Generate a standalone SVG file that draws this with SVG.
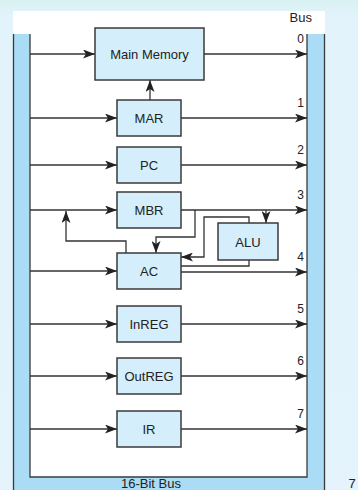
<svg xmlns="http://www.w3.org/2000/svg" width="358" height="490" viewBox="0 0 358 490">
  <defs>
    <linearGradient id="bg" x1="0" y1="0" x2="0" y2="1">
      <stop offset="0" stop-color="#d8f1f1"/>
      <stop offset="0.03" stop-color="#e2f3fb"/>
      <stop offset="1" stop-color="#e4f3fc"/>
    </linearGradient>
    <marker id="arr" markerWidth="12" markerHeight="9" refX="12" refY="4.5" orient="auto" markerUnits="userSpaceOnUse">
      <path d="M0,0 L12,4.5 L0,9 L3,4.5 z" fill="#222"/>
    </marker>
    <style>
      .reg rect { fill: #d5eefb; stroke: #3a3a3a; stroke-width: 1.5; }
      .reg text, .lbl { font-family: "Liberation Sans", Arial, sans-serif; fill: #222; }
      .reg text { font-size: 13px; text-anchor: middle; }
      .num { font-family: "Liberation Sans", Arial, sans-serif; font-size: 12px; fill: #222; text-anchor: end; }
      .wire { fill: none; stroke: #333; stroke-width: 1.3; }
      .wire.a { marker-end: url(#arr); }
    </style>
  </defs>

  <!-- page background -->
  <rect x="0" y="0" width="358" height="490" fill="url(#bg)"/>

  <!-- white panel and the U-shaped 16-bit bus -->
  <g id="bus">
    <rect x="13" y="11" width="312" height="479" fill="#ffffff"/>
    <path d="M13,34 V492 H325 V34 H307 V477 H30 V34 Z" fill="#aadcf6"/>
    <path d="M13.5,34 V492 M30,34 V477 H307 V34 M324.5,34 V492" fill="none" stroke="#3a3a3a" stroke-width="1.3"/>
    <text class="lbl" x="312" y="22" font-size="13" text-anchor="end">Bus</text>
    <text class="lbl" x="151" y="488" font-size="13" text-anchor="middle">16-Bit Bus</text>
  </g>

  <!-- bus line numbers -->
  <g id="bus-lines">
    <text class="num" x="304" y="43">0</text>
    <text class="num" x="304" y="107">1</text>
    <text class="num" x="304" y="154">2</text>
    <text class="num" x="304" y="199">3</text>
    <text class="num" x="304" y="261">4</text>
    <text class="num" x="304" y="313">5</text>
    <text class="num" x="304" y="365">6</text>
    <text class="num" x="304" y="418">7</text>
  </g>

  <!-- connectors -->
  <g id="connectors">
    <!-- bus to registers -->
    <line class="wire a" x1="30" y1="54" x2="95" y2="54"/>
    <line class="wire a" x1="30" y1="118" x2="117" y2="118"/>
    <line class="wire a" x1="30" y1="165" x2="117" y2="165"/>
    <line class="wire a" x1="30" y1="210" x2="117" y2="210"/>
    <line class="wire a" x1="30" y1="271" x2="117" y2="271"/>
    <line class="wire a" x1="30" y1="324" x2="117" y2="324"/>
    <line class="wire a" x1="30" y1="376" x2="117" y2="376"/>
    <line class="wire a" x1="30" y1="429" x2="117" y2="429"/>
    <!-- registers to bus -->
    <line class="wire a" x1="204" y1="54" x2="307" y2="54"/>
    <line class="wire a" x1="181" y1="118" x2="307" y2="118"/>
    <line class="wire a" x1="181" y1="165" x2="307" y2="165"/>
    <line class="wire a" x1="181" y1="210" x2="307" y2="210"/>
    <line class="wire a" x1="181" y1="272" x2="307" y2="272"/>
    <line class="wire a" x1="181" y1="324" x2="307" y2="324"/>
    <line class="wire a" x1="181" y1="376" x2="307" y2="376"/>
    <line class="wire a" x1="181" y1="429" x2="307" y2="429"/>
    <!-- MAR addresses main memory -->
    <line class="wire a" x1="150" y1="100" x2="150" y2="80"/>
    <!-- MBR to AC -->
    <polyline class="wire a" points="195,210 195,237 156,237 156,253"/>
    <!-- MBR to ALU -->
    <line class="wire a" x1="266" y1="210" x2="266" y2="223"/>
    <!-- ALU result to AC -->
    <polyline class="wire a" points="249,223 249,217 204,217 204,257 181,257"/>
    <!-- AC to ALU -->
    <polyline class="wire" points="181,266 249,266 249,260"/>
    <!-- AC feeds back toward MBR input -->
    <polyline class="wire a" points="126,253 126,241 66,241 66,211"/>
  </g>

  <!-- registers -->
  <g id="main-memory" class="reg">
    <rect x="95" y="28" width="109" height="52"/>
    <text x="149.5" y="59">Main Memory</text>
  </g>
  <g id="mar" class="reg">
    <rect x="117" y="100" width="64" height="36"/>
    <text x="149" y="123">MAR</text>
  </g>
  <g id="pc" class="reg">
    <rect x="117" y="147" width="64" height="36"/>
    <text x="149" y="170">PC</text>
  </g>
  <g id="mbr" class="reg">
    <rect x="117" y="192" width="64" height="36"/>
    <text x="149" y="215">MBR</text>
  </g>
  <g id="alu" class="reg">
    <rect x="218" y="223" width="60" height="37"/>
    <text x="248" y="246.5">ALU</text>
  </g>
  <g id="ac" class="reg">
    <rect x="117" y="253" width="64" height="36"/>
    <text x="149" y="276">AC</text>
  </g>
  <g id="inreg" class="reg">
    <rect x="117" y="306" width="64" height="36"/>
    <text x="149" y="329">InREG</text>
  </g>
  <g id="outreg" class="reg">
    <rect x="117" y="358" width="64" height="36"/>
    <text x="149" y="381">OutREG</text>
  </g>
  <g id="ir" class="reg">
    <rect x="117" y="411" width="64" height="36"/>
    <text x="149" y="434">IR</text>
  </g>

  <!-- page number -->
  <text class="lbl" x="352" y="488" font-size="13" text-anchor="middle">7</text>
</svg>
